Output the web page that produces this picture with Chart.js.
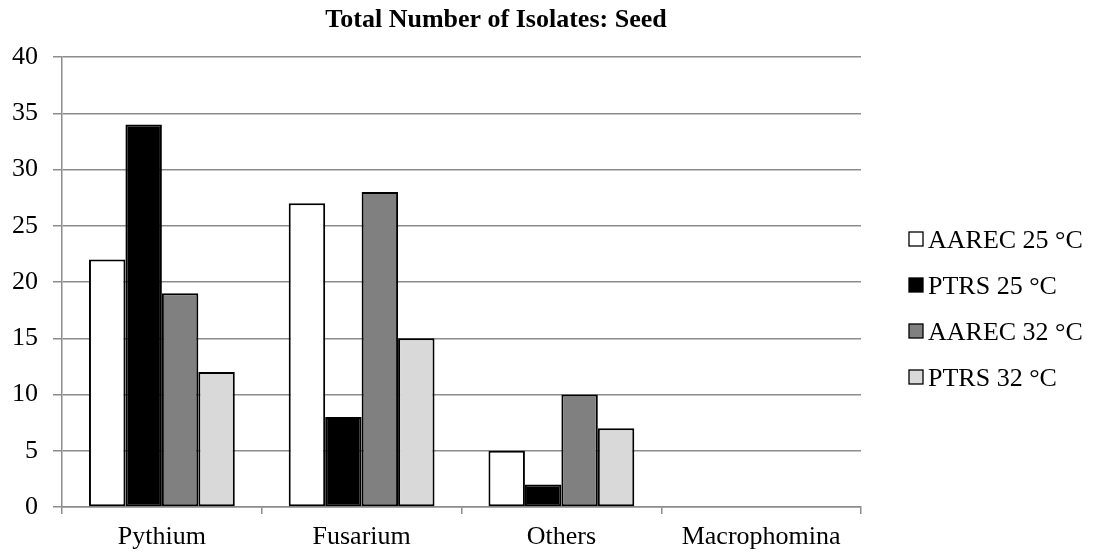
<!DOCTYPE html>
<html>
<head>
<meta charset="utf-8">
<title>Total Number of Isolates: Seed</title>
<script src="https://cdn.jsdelivr.net/npm/chart.js@4.4.0/dist/chart.umd.min.js"></script>
<style>
    html, body { margin: 0; padding: 0; background: #fff; }
    #wrap { width: 1099px; height: 556px; }
</style>
</head>
<body>
<div id="wrap"><canvas id="isolateChart" width="1099" height="556"></canvas></div>
<script>
const chartTitle = "Total Number of Isolates: Seed";
const fungi = ["Pythium", "Fusarium", "Others", "Macrophomina"];
const seriesNames = ["AAREC 25 °C", "PTRS 25 °C", "AAREC 32 °C", "PTRS 32 °C"];
const aarec25 = [22, 27, 5, 0];
const ptrs25 = [34, 8, 2, 0];
const aarec32 = [19, 28, 10, 0];
const ptrs32 = [12, 15, 7, 0];
const yTicks = [0, 5, 10, 15, 20, 25, 30, 35, 40];

const fills = ["#ffffff", "#000000", "#808080", "#d9d9d9"];
const serif = "'Liberation Serif', 'Times New Roman', serif";
const gridGray = "#8c8c8c";

// title and the boxed legend on the right are drawn by hand
const sideParts = {
    id: "sideParts",
    afterDraw(chart) {
        const c = chart.ctx;
        c.save();
        c.fillStyle = "#000";
        c.font = "bold 26px " + serif;
        c.textAlign = "center";
        c.textBaseline = "alphabetic";
        c.fillText(chartTitle, 496, 27);

        c.font = "26px " + serif;
        c.textAlign = "left";
        chart.data.datasets.forEach(function(ds, i) {
            let base = 248 + i * 46;
            c.fillStyle = ds.backgroundColor;
            c.fillRect(909, base - 16, 14, 14);
            c.strokeStyle = "#000";
            c.lineWidth = 1.3;
            c.strokeRect(909, base - 16, 14, 14);
            c.fillStyle = "#000";
            c.fillText(ds.label, 928, base);
        });
        c.restore();
    }
};

const seriesData = [aarec25, ptrs25, aarec32, ptrs32];

let ctx = document.getElementById("isolateChart").getContext("2d");
let isolateChart = new Chart(ctx, {
    type: "bar",
    data: {
        labels: fungi,
        datasets: seriesData.map(function(vals, i) {
            return {
                label: seriesNames[i],
                data: vals,
                backgroundColor: fills[i],
                borderColor: "#000",
                borderWidth: 2,
                borderSkipped: false,
                categoryPercentage: 0.73,
                barPercentage: 1
            };
        })
    },
    options: {
        responsive: false,
        animation: false,
        layout: { padding: { top: 57, right: 238, bottom: 0, left: 0 } },
        plugins: {
            legend: { display: false },
            title: { display: false },
            tooltip: { enabled: false }
        },
        scales: {
            x: {
                grid: {
                    display: true,
                    drawOnChartArea: false,
                    drawTicks: true,
                    tickLength: 7,
                    color: gridGray,
                    lineWidth: 1.5,
                    offset: true
                },
                border: { display: true, color: gridGray, width: 1.5 },
                ticks: {
                    color: "#000",
                    font: { family: serif, size: 26 },
                    padding: 8,
                    maxRotation: 0
                },
                afterFit: function(scale) { scale.height = 49; }
            },
            y: {
                min: 0,
                max: 40,
                afterBuildTicks: function(scale) {
                    scale.ticks = yTicks.map(v => ({ value: v }));
                },
                grid: {
                    color: gridGray,
                    lineWidth: 1.5,
                    drawTicks: true,
                    tickLength: 9
                },
                border: { display: true, color: gridGray, width: 1.5 },
                ticks: {
                    color: "#000",
                    font: { family: serif, size: 26 },
                    padding: 15
                },
                afterFit: function(scale) { scale.width = 62; }
            }
        }
    },
    plugins: [sideParts]
});
</script>
</body>
</html>
